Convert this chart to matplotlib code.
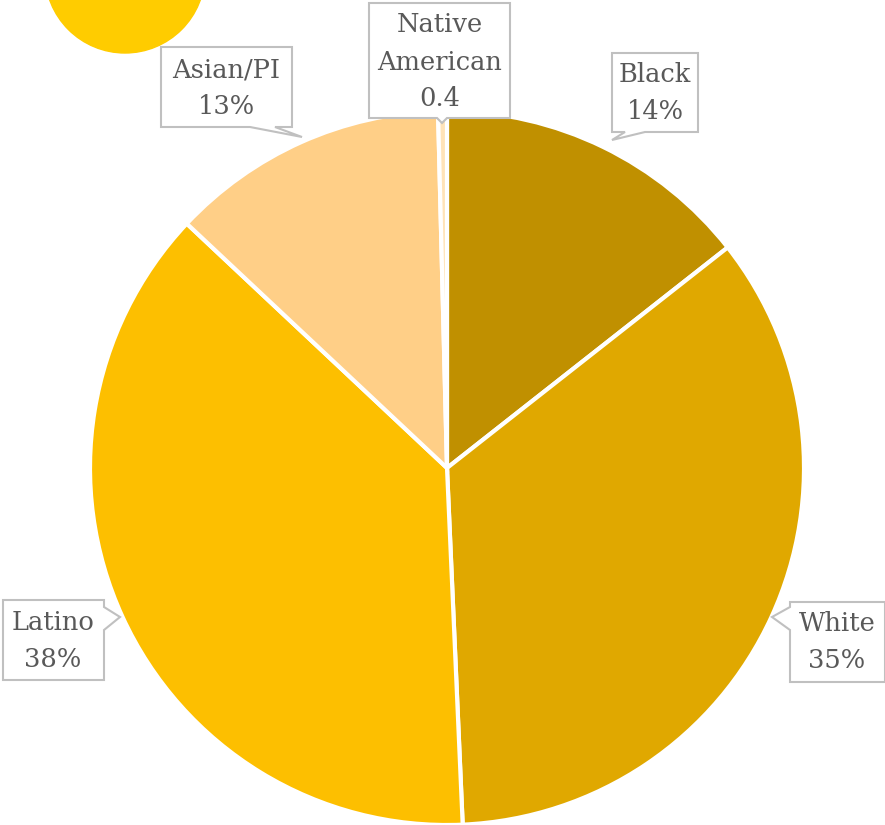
import matplotlib
matplotlib.use("Agg")
import matplotlib.pyplot as plt
from matplotlib.patches import Polygon, Circle

categories = ["Black", "White", "Latino", "Asian/PI", "Native American"]
values = [14.4, 34.9, 37.7, 12.6, 0.4]
label_texts = ["Black\n14%", "White\n35%", "Latino\n38%", "Asian/PI\n13%", "Native\nAmerican\n0.4"]
colors = ["#C09000", "#E0A800", "#FDBF00", "#FFCF87", "#FFE3B8"]

W, H = 885, 825
fig = plt.figure(figsize=(W / 100, H / 100), dpi=100)
ax = fig.add_axes([0, 0, 1, 1])

# decorative circle top-left
ax.add_patch(Circle((125, -27), 80, color="#FFCC00", zorder=1))

cx, cy, r = 447, 468, 357
wedges, _ = ax.pie(values, colors=colors, startangle=-90, counterclock=True,
                   center=(cx, cy), radius=r, frame=True,
                   wedgeprops=dict(edgecolor="white", linewidth=3))
for w in wedges:
    w.set_zorder(2)
ax.set_xlim(0, W)
ax.set_ylim(H, 0)
ax.set_aspect("equal")
ax.axis("off")

# label boxes: (x0, y0, x1, y1), tail (edge, base a, base b, tip), text center
boxes = {
    "Black": ((612, 53, 698, 132), ("bottom", 625, 645, (612, 140)), (655, 93)),
    "White": ((790, 602, 885, 682), ("left", 607, 630, (772, 617)), (837, 642)),
    "Latino": ((3, 600, 104, 680), ("right", 607, 630, (120, 617)), (53, 641)),
    "Asian/PI": ((161, 47, 292, 127), ("bottom", 250, 275, (302, 137)), (226, 88)),
    "Native American": ((369, 3, 510, 118), ("bottom", 437, 447, (442, 123)), (440, 62)),
}

def box_poly(b, tail):
    x0, y0, x1, y1 = b
    edge, a, c, tip = tail
    if edge == "bottom":
        pts = [(x0, y0), (x1, y0), (x1, y1), (c, y1), tip, (a, y1), (x0, y1)]
    elif edge == "left":
        pts = [(x0, y0), (x1, y0), (x1, y1), (x0, y1), (x0, c), tip, (x0, a)]
    else:  # right
        pts = [(x0, y0), (x1, y0), (x1, a), tip, (x1, c), (x1, y1), (x0, y1)]
    return pts

for cat, txt in zip(categories, label_texts):
    b, tail, tc = boxes[cat]
    ax.add_patch(Polygon(box_poly(b, tail), closed=True, facecolor="white",
                         edgecolor="#C0C0C0", linewidth=1.5, zorder=5))
    ax.text(tc[0], tc[1], txt, ha="center", va="center", fontsize=18.5,
            family=["DejaVu Serif"], color="#595959", linespacing=1.6, zorder=6)

fig.savefig("out.png", dpi=100)
